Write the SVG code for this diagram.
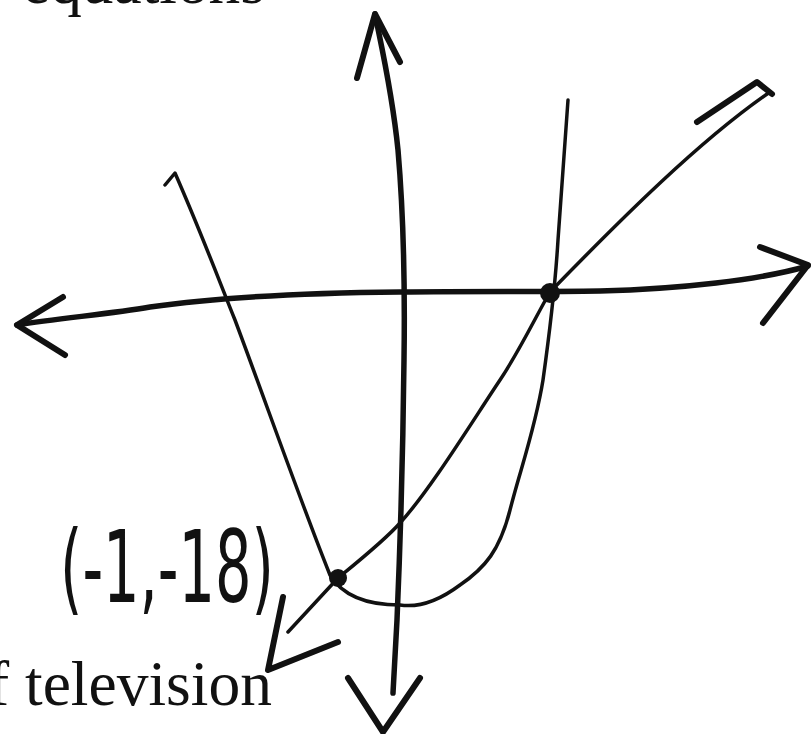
<svg xmlns="http://www.w3.org/2000/svg" width="811" height="734" viewBox="0 0 811 734">
<style>
.ink{fill:none;stroke:#111;stroke-linecap:round;stroke-linejoin:round}
.axis{stroke-width:5.5}
.thin{stroke-width:3.5}
.head{stroke-width:6}
.print{font-family:"Liberation Serif","Times New Roman",serif;fill:#111}
.hand{font-family:"DejaVu Sans","Liberation Sans",sans-serif;fill:#111}
</style>
<rect width="811" height="734" fill="#fff"/>
<g id="text-top"><text class="print" x="22" y="3" font-size="64" textLength="243" lengthAdjust="spacingAndGlyphs">equations</text></g>
<g id="text-bottom"><text class="print" x="-12" y="705" font-size="64" textLength="284" lengthAdjust="spacingAndGlyphs">f television</text></g>
<g id="connectors">
  <g id="y-axis">
    <path class="ink axis" d="M375,14 C380,40 392,90 398,150 C404,220 405,290 404,360 C403,450 400,550 397,620 L393,693"/>
    <path class="ink head" d="M357,78 L375,14 L400,62"/>
    <path class="ink head" d="M348,678 L383,732 L420,678"/>
  </g>
  <g id="x-axis">
    <path class="ink axis" d="M17,325 C60,318 110,314 150,307 C220,297 300,293 400,292 C480,291 540,292 600,291 C680,289 760,280 808,266"/>
    <path class="ink head" d="M63,297 L17,325 L65,355"/>
    <path class="ink head" d="M760,247 L808,265 L763,323"/>
  </g>
  <g id="parabola">
    <path class="ink thin" d="M165,185 L175,173 C200,230 215,270 235,320 C265,400 300,500 330,575 C345,600 375,605 400,605 C420,608 440,600 460,585 C485,568 500,550 510,510 C520,470 535,430 543,380 C550,330 555,290 558,240 C562,180 565,140 568,100"/>
  </g>
  <g id="line">
    <path class="ink thin" d="M288,632 L338,578 C360,560 385,540 400,523 C430,490 470,425 500,380 C520,350 535,318 550,292 C620,220 700,140 770,92"/>
    <path class="ink head" d="M697,122 L757,82 L772,94"/>
    <path class="ink head" d="M283,597 L268,670 L338,642"/>
  </g>
</g>
<g id="point-intersect"><circle cx="550" cy="293" r="10" fill="#111"/></g>
<g id="point-vertex"><circle cx="338" cy="578" r="9" fill="#111"/>
<text class="hand" x="60" y="602" font-size="100" textLength="214" lengthAdjust="spacingAndGlyphs">(-1,-18)</text></g>
</svg>
